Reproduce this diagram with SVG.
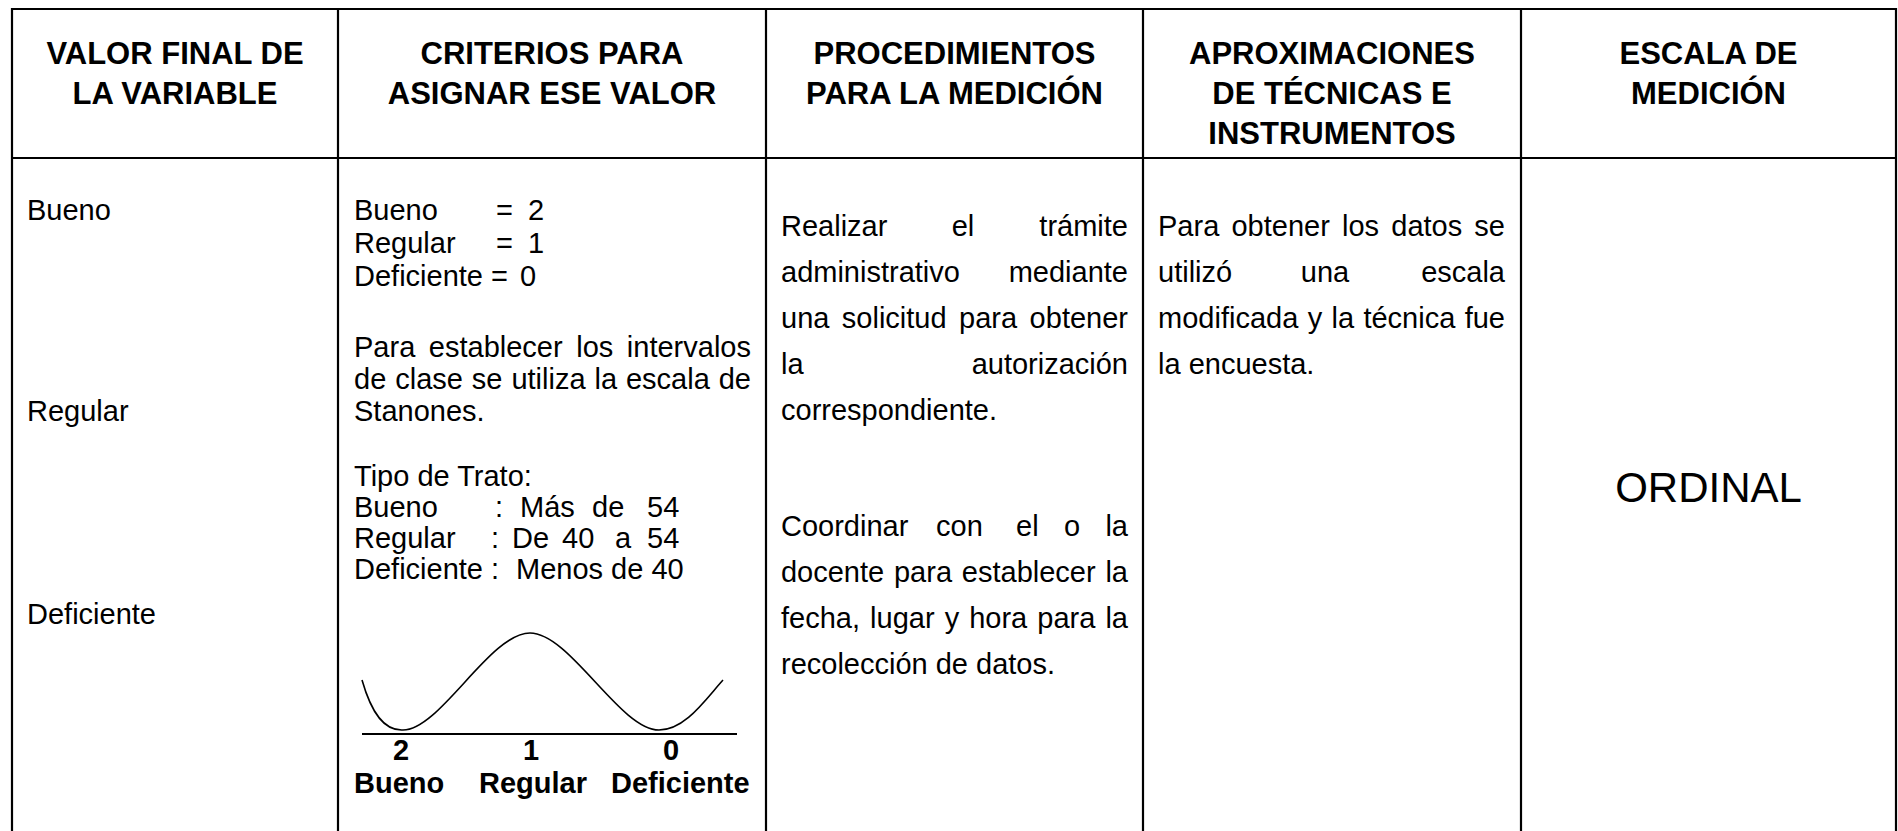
<svg xmlns="http://www.w3.org/2000/svg" width="1898" height="831" viewBox="0 0 1898 831">
<style>
.grid{stroke:#000;stroke-width:2.2;fill:none}
.h{font-family:"Liberation Sans",Arial,sans-serif;font-weight:bold;font-size:31px;fill:#000;text-anchor:middle}
.t{font-family:"Liberation Sans",Arial,sans-serif;font-size:29px;fill:#000}
.b{font-family:"Liberation Sans",Arial,sans-serif;font-size:29px;font-weight:bold;fill:#000}
.m{text-anchor:middle}
.ord{font-family:"Liberation Sans",Arial,sans-serif;font-size:42px;fill:#000;text-anchor:middle}
</style>
<rect width="1898" height="831" fill="#fff"/>
<g id="table">
<path class="grid" d="M12,840 V9 H1896 V840 M12,158 H1896 M338,9 V840 M766,9 V840 M1143,9 V840 M1521,9 V840"/>
</g>
<g id="header">
<text class="h" x="175" y="64">VALOR FINAL DE</text>
<text class="h" x="175" y="104">LA VARIABLE</text>
<text class="h" x="552" y="64">CRITERIOS PARA</text>
<text class="h" x="552" y="104">ASIGNAR ESE VALOR</text>
<text class="h" x="954.5" y="64">PROCEDIMIENTOS</text>
<text class="h" x="954.5" y="104">PARA LA MEDICIÓN</text>
<text class="h" x="1332" y="64">APROXIMACIONES</text>
<text class="h" x="1332" y="104">DE TÉCNICAS E</text>
<text class="h" x="1332" y="144">INSTRUMENTOS</text>
<text class="h" x="1708.5" y="64">ESCALA DE</text>
<text class="h" x="1708.5" y="104">MEDICIÓN</text>
</g>
<g id="col-valor">
<text class="t" x="27" y="220">Bueno</text>
<text class="t" x="27" y="421">Regular</text>
<text class="t" x="27" y="624">Deficiente</text>
</g>
<g id="col-criterios">
<text class="t" y="220"><tspan x="354">Bueno</tspan><tspan x="496">=</tspan><tspan x="528">2</tspan></text>
<text class="t" y="253"><tspan x="354">Regular</tspan><tspan x="496">=</tspan><tspan x="528">1</tspan></text>
<text class="t" y="286"><tspan x="354">Deficiente</tspan><tspan x="491">=</tspan><tspan x="520">0</tspan></text>
<text class="t" y="357" x="354" word-spacing="5.5" textLength="397" lengthAdjust="spacing">Para establecer los intervalos</text>
<text class="t" y="389" x="354" word-spacing="0.9" textLength="397" lengthAdjust="spacing">de clase se utiliza la escala de</text>
<text class="t" x="354" y="421">Stanones.</text>
<text class="t" x="354" y="486">Tipo de Trato:</text>
<text class="t" y="517"><tspan x="354">Bueno</tspan><tspan x="495">:</tspan><tspan x="520">Más</tspan><tspan x="592">de</tspan><tspan x="647">54</tspan></text>
<text class="t" y="548"><tspan x="354">Regular</tspan><tspan x="491">:</tspan><tspan x="512">De</tspan><tspan x="562">40</tspan><tspan x="615">a</tspan><tspan x="647">54</tspan></text>
<text class="t" y="579"><tspan x="354">Deficiente</tspan><tspan x="491">:</tspan><tspan x="516">Menos de 40</tspan></text>
<path d="M362,680 C372,715 385,731 403,730 C440,730 490,633 530,633 C570,633 620,730 659,730 C685,730 705,700 723,680" fill="none" stroke="#000" stroke-width="1.6"/>
<line x1="362" y1="734" x2="737" y2="734" stroke="#000" stroke-width="2"/>
<text class="b m" x="401" y="760">2</text>
<text class="b m" x="531" y="760">1</text>
<text class="b m" x="671" y="760">0</text>
<text class="b" x="354" y="793">Bueno</text>
<text class="b" x="479" y="793">Regular</text>
<text class="b" x="611" y="793">Deficiente</text>
</g>
<g id="col-procedimientos">
<text class="t" y="236"><tspan x="781">Realizar</tspan><tspan x="963" text-anchor="middle">el</tspan><tspan x="1128" text-anchor="end">trámite</tspan></text>
<text class="t" y="282"><tspan x="781">administrativo</tspan><tspan x="1128" text-anchor="end">mediante</tspan></text>
<text class="t" x="781" y="328" word-spacing="4.4" textLength="347" lengthAdjust="spacing">una solicitud para obtener</text>
<text class="t" y="374"><tspan x="781">la</tspan><tspan x="1128" text-anchor="end">autorización</tspan></text>
<text class="t" x="781" y="420">correspondiente.</text>
<text class="t" y="536"><tspan x="781">Coordinar</tspan><tspan x="936">con</tspan><tspan x="1016">el</tspan><tspan x="1064">o</tspan><tspan x="1128" text-anchor="end">la</tspan></text>
<text class="t" x="781" y="582" word-spacing="1.8" textLength="347" lengthAdjust="spacing">docente para establecer la</text>
<text class="t" x="781" y="628" word-spacing="2" textLength="347" lengthAdjust="spacing">fecha, lugar y hora para la</text>
<text class="t" x="781" y="674">recolección de datos.</text>
</g>
<g id="col-aproximaciones">
<text class="t" x="1158" y="236" word-spacing="4.1" textLength="347" lengthAdjust="spacing">Para obtener los datos se</text>
<text class="t" y="282"><tspan x="1158">utilizó</tspan><tspan x="1325" text-anchor="middle">una</tspan><tspan x="1505" text-anchor="end">escala</tspan></text>
<text class="t" x="1158" y="328" word-spacing="1.3" textLength="347" lengthAdjust="spacing">modificada y la técnica fue</text>
<text class="t" x="1158" y="374">la encuesta.</text>
</g>
<g id="col-escala">
<text class="ord" x="1708.5" y="502">ORDINAL</text>
</g>
</svg>
